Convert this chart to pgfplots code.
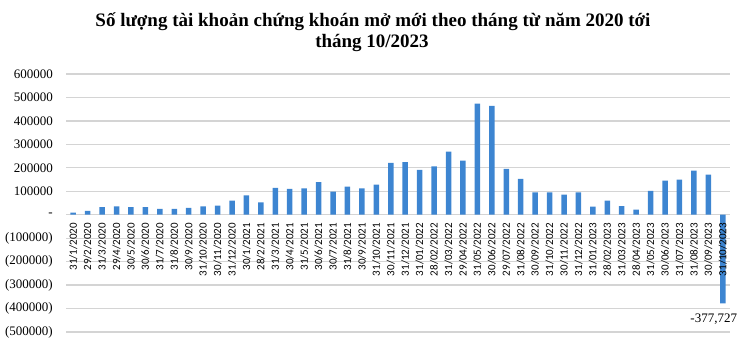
\documentclass[border=0pt]{standalone}
\usepackage{pgfplots}
\pgfplotsset{compat=1.18}
\usepackage{pgfplotstable}
\usepackage{fontspec}
\setmainfont{Liberation Serif}
\newfontfamily\labelfont{Carlito}
\definecolor{barblue}{RGB}{61,133,209}

\pgfplotstableread{
x y
0 9000
1 16000
2 32000
3 36000
4 32000
5 32000
6 25000
7 25000
8 29000
9 36000
10 39000
11 60000
12 83000
13 53000
14 114000
15 110000
16 112000
17 139000
18 99000
19 120000
20 112000
21 128000
22 221000
23 224000
24 191000
25 206000
26 269000
27 231000
28 474000
29 464000
30 196000
31 153000
32 95000
33 95000
34 86000
35 95000
36 34000
37 60000
38 37000
39 22000
40 102000
41 145000
42 150000
43 188000
44 171000
45 -377727
}\datatable

\begin{document}
\begin{tikzpicture}
\node[anchor=base, inner sep=0pt, font=\fontsize{19bp}{22bp}\selectfont\bfseries] at (373bp,320bp) {Số lượng tài khoản chứng khoán mở mới theo tháng từ năm 2020 tới};
\node[anchor=base, inner sep=0pt, font=\fontsize{19bp}{22bp}\selectfont\bfseries] at (372bp,299bp) {tháng 10/2023};
\begin{axis}[
  at={(66bp,15bp)}, anchor=south west,
  width=664bp, height=258bp, scale only axis,
  xmin=-0.5, xmax=45.5, ymin=-500000, ymax=600000,
  axis x line=middle, axis y line=left,
  x axis line style={draw=none,-}, y axis line style={draw=none,-},
  hide obscured x ticks=false, hide obscured y ticks=false,
  major tick length=0pt,
  ymajorgrids, grid style={black!17, line width=1.2bp},
  scaled y ticks=false,
  ytick={-500000,-400000,-300000,-200000,-100000,0,100000,200000,300000,400000,500000,600000},
  yticklabels={(500000),(400000),(300000),(200000),(100000),{-\hspace{10bp}},100000,200000,300000,400000,500000,600000},
  yticklabel style={font=\fontsize{13bp}{15bp}\selectfont, anchor=east, inner sep=0pt, xshift=-13bp},
  xtick={0,...,44},
  xticklabels={31/1/2020,29/2/2020,31/3/2020,29/4/2020,30/5/2020,30/6/2020,31/7/2020,31/8/2020,30/9/2020,31/10/2020,30/11/2020,31/12/2020,
    30/1/2021,28/2/2021,31/3/2021,30/4/2021,31/5/2021,30/6/2021,30/7/2021,31/8/2021,30/9/2021,31/10/2021,30/11/2021,31/12/2021,
    31/01/2022,28/02/2022,31/03/2022,29/04/2022,31/05/2022,30/06/2022,29/07/2022,31/08/2022,30/09/2022,31/10/2022,30/11/2022,31/12/2022,
    31/01/2023,28/02/2023,31/03/2023,28/04/2023,31/05/2023,30/06/2023,31/07/2023,31/08/2023,30/09/2023},
  xticklabel style={font=\labelfont\fontsize{11bp}{13bp}\selectfont, rotate=90, anchor=east, inner ysep=0pt, inner xsep=8bp},
  clip=false,
]
\addplot[ybar, bar width=5.5bp, bar shift=0pt, fill=barblue, draw=none] table[x=x, y=y] {\datatable};
\node[font=\labelfont\fontsize{11bp}{13bp}\selectfont, rotate=90, anchor=east, inner ysep=0pt, inner xsep=8bp] at (axis cs:45,0) {31/10/2023};
\node[font=\fontsize{13bp}{15bp}\selectfont, anchor=north, inner sep=0pt, xshift=-9bp, yshift=-10bp] at (axis cs:45,-377727) {-377,727};
\end{axis}
\pgfresetboundingbox
\path (0bp,0bp) rectangle (750bp,347bp);
\end{tikzpicture}
\end{document}
